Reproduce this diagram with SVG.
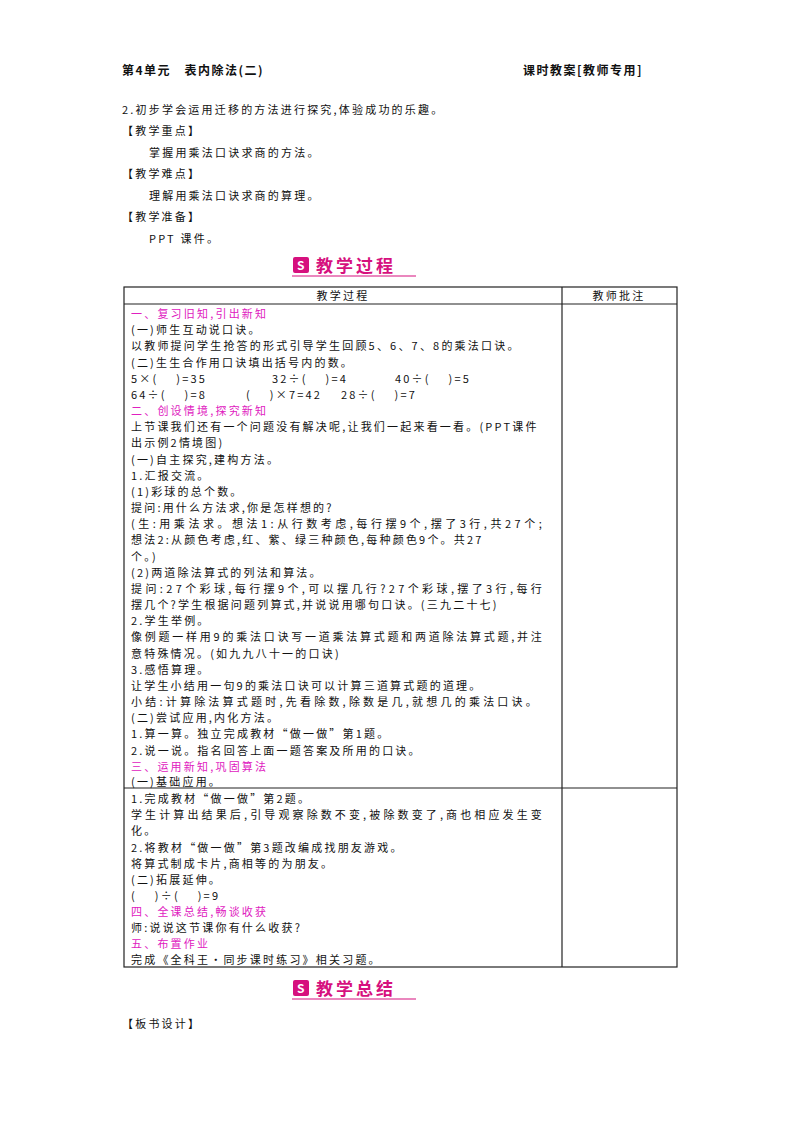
<svg xmlns="http://www.w3.org/2000/svg" width="800" height="1132" viewBox="0 0 800 1132">
<style>
text{font-family:"Noto Sans CJK SC","Liberation Serif",serif;font-size:11px;letter-spacing:2.2px;fill:#111}
.m{fill:#e020c0}
.b{font-weight:bold;font-size:12px;letter-spacing:1.5px}
.t{font-size:17px;font-weight:bold;fill:#d6107e;letter-spacing:3px}
line,rect.c{stroke:#222;stroke-width:1.2;fill:none}
</style>
<rect width="800" height="1132" fill="#fff"/>
<g id="header">
<text x="122" y="75" class="b">第4单元　表内除法(二)</text>
<text x="523" y="75" class="b">课时教案[教师专用]</text>
</g>
<g id="intro">
<text x="122" y="114">2.初步学会运用迁移的方法进行探究,体验成功的乐趣。</text>
<text x="122" y="135">【教学重点】</text>
<text x="149" y="157">掌握用乘法口诀求商的方法。</text>
<text x="122" y="178">【教学难点】</text>
<text x="149" y="200">理解用乘法口诀求商的算理。</text>
<text x="122" y="221">【教学准备】</text>
<text x="149" y="243">PPT 课件。</text>
</g>
<g id="title1">
<rect x="293" y="257" width="16" height="16" rx="2" fill="#d6107e"/>
<text x="297" y="270" style="font-size:12px;fill:#fff;font-weight:bold;letter-spacing:0">S</text>
<text x="316" y="272" class="t">教学过程</text>
<line x1="292" y1="276" x2="416" y2="276" style="stroke:#d6107e"/>
</g>
<g id="table">
<rect class="c" x="124" y="287" width="553" height="680"/>
<line x1="124" y1="304" x2="677" y2="304"/>
<line x1="562" y1="287" x2="562" y2="967"/>
<line x1="124" y1="788" x2="677" y2="788"/>
<text x="343" y="300" text-anchor="middle">教学过程</text>
<text x="619" y="300" text-anchor="middle">教师批注</text>
</g>
<g id="row1">
<text x="131" y="318" class="m">一、复习旧知,引出新知</text>
<text x="131" y="334">(一)师生互动说口诀。</text>
<text x="131" y="350">以教师提问学生抢答的形式引导学生回顾5、6、7、8的乘法口诀。</text>
<text x="131" y="367">(二)生生合作用口诀填出括号内的数。</text>
<text x="131" y="383">5×(　 )=35</text><text x="272" y="383">32÷(　 )=4</text><text x="395" y="383">40÷(　 )=5</text>
<text x="131" y="399">64÷(　 )=8</text><text x="246" y="399">(　 )×7=42</text><text x="341" y="399">28÷(　 )=7</text>
<text x="131" y="415" class="m">二、创设情境,探究新知</text>
<text x="131" y="431">上节课我们还有一个问题没有解决呢,让我们一起来看一看。(PPT课件</text>
<text x="131" y="447">出示例2情境图)</text>
<text x="131" y="464">(一)自主探究,建构方法。</text>
<text x="131" y="480">1.汇报交流。</text>
<text x="131" y="496">(1)彩球的总个数。</text>
<text x="131" y="512">提问:用什么方法求,你是怎样想的?</text>
<text x="131" y="528" textLength="413">(生:用乘法求。想法1:从行数考虑,每行摆9个,摆了3行,共27个;</text>
<text x="131" y="544">想法2:从颜色考虑,红、紫、绿三种颜色,每种颜色9个。共27</text>
<text x="131" y="561">个。)</text>
<text x="131" y="577">(2)两道除法算式的列法和算法。</text>
<text x="131" y="593" textLength="413">提问:27个彩球,每行摆9个,可以摆几行?27个彩球,摆了3行,每行</text>
<text x="131" y="609">摆几个?学生根据问题列算式,并说说用哪句口诀。(三九二十七)</text>
<text x="131" y="625">2.学生举例。</text>
<text x="131" y="641" textLength="413">像例题一样用9的乘法口诀写一道乘法算式题和两道除法算式题,并注</text>
<text x="131" y="658">意特殊情况。(如九九八十一的口诀)</text>
<text x="131" y="674">3.感悟算理。</text>
<text x="131" y="690">让学生小结用一句9的乘法口诀可以计算三道算式题的道理。</text>
<text x="131" y="706" textLength="408">小结:计算除法算式题时,先看除数,除数是几,就想几的乘法口诀。</text>
<text x="131" y="722">(二)尝试应用,内化方法。</text>
<text x="131" y="738">1.算一算。独立完成教材“做一做”第1题。</text>
<text x="131" y="755">2.说一说。指名回答上面一题答案及所用的口诀。</text>
<text x="131" y="771" class="m">三、运用新知,巩固算法</text>
<text x="131" y="786">(一)基础应用。</text>
</g>
<g id="row2">
<text x="131" y="803">1.完成教材“做一做”第2题。</text>
<text x="131" y="819" textLength="413">学生计算出结果后,引导观察除数不变,被除数变了,商也相应发生变</text>
<text x="131" y="835">化。</text>
<text x="131" y="852">2.将教材“做一做”第3题改编成找朋友游戏。</text>
<text x="131" y="868">将算式制成卡片,商相等的为朋友。</text>
<text x="131" y="884">(二)拓展延伸。</text>
<text x="131" y="900">(　 )÷(　 )=9</text>
<text x="131" y="916" class="m">四、全课总结,畅谈收获</text>
<text x="131" y="932">师:说说这节课你有什么收获?</text>
<text x="131" y="948" class="m">五、布置作业</text>
<text x="131" y="964">完成《全科王·同步课时练习》相关习题。</text>
</g>
<g id="title2">
<rect x="293" y="980" width="16" height="16" rx="2" fill="#d6107e"/>
<text x="297" y="993" style="font-size:12px;fill:#fff;font-weight:bold;letter-spacing:0">S</text>
<text x="316" y="995" class="t">教学总结</text>
<line x1="292" y1="999" x2="416" y2="999" style="stroke:#d6107e"/>
</g>
<text x="122" y="1028">【板书设计】</text>
</svg>
